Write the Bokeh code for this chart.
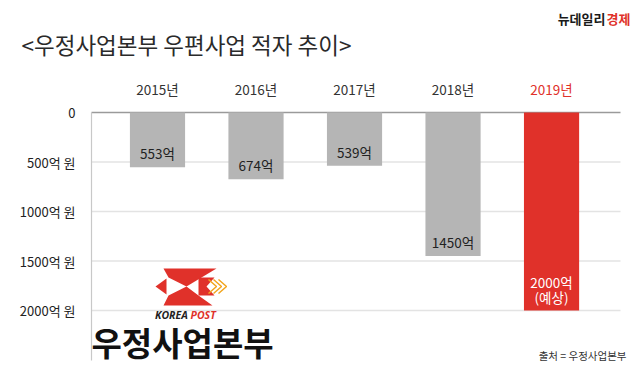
from bokeh.plotting import figure
from bokeh.models import Range1d, FixedTicker, Label, LinearAxis
from bokeh.core.properties import value
from bokeh.embed import file_html
from bokeh.resources import INLINE

# ---- data ----
years = ["2015년", "2016년", "2017년", "2018년", "2019년"]
deficits = [553, 674, 539, 1450, 2000]          # 억 원
bar_labels = ["553억", "674억", "539억", "1450억", "2000억\n(예상)"]
y_ticks = [0, 500, 1000, 1500, 2000]
y_tick_labels = ["0", "500억 원", "1000억 원", "1500억 원", "2000억 원"]

GRAY = "#b5b5b5"
RED = "#e0312a"
KFONT = "Noto Sans CJK KR"

# pixel layout of the plotting area
FL, FR, FT, FB = 91, 620, 112, 360
XL, XR = -0.67, 4.70      # x data at FL / FR
YMAX = 2505               # y data at FB (0 at FT)


def sx(px):
    return XL + (px - FL) * (XR - XL) / (FR - FL)


def sy(py):
    return (py - FT) * YMAX / (FB - FT)


idx = list(range(len(years)))
bar_colors = [GRAY] * 4 + [RED]
label_colors = ["#222222"] * 4 + ["#ffffff"]
year_colors = ["#333333"] * 4 + [RED]
grid_colors = ["#9a9a9a"] + ["#e3e3e3"] * 4

p = figure(width=640, height=384, x_range=Range1d(sx(0), sx(640)),
           y_range=Range1d(sy(384), sy(0)),
           output_backend="svg", toolbar_location=None,
           x_axis_location=None, y_axis_location=None,
           min_border=0, min_border_left=0, min_border_right=0,
           min_border_top=0, min_border_bottom=0)
p.outline_line_color = None
p.background_fill_color = "white"
p.border_fill_color = "white"
p.xgrid.visible = False
p.ygrid.visible = False

# grid lines at the tick values
p.segment(x0=sx(FL), x1=sx(FR), y0=y_ticks, y1=y_ticks, line_color=grid_colors, line_width=1.5)

ax = LinearAxis(fixed_location=sx(FL), bounds=(0, sy(FB)))
ax.ticker = FixedTicker(ticks=y_ticks)
ax.major_label_overrides = {t: l for t, l in zip(y_ticks, y_tick_labels)}
ax.major_tick_line_color = None
ax.minor_tick_line_color = None
ax.axis_line_color = "#c8c8c8"
ax.axis_line_width = 1.2
ax.major_label_text_font = KFONT
ax.major_label_text_font_size = "13px"
ax.major_label_text_color = "#222222"
ax.major_label_standoff = 10
p.add_layout(ax, "left")

# bars
p.vbar(x=idx, top=0, bottom=deficits, width=0.56, fill_color=bar_colors, line_color=None)

# bar value labels
p.text(x=idx, y=deficits, text=bar_labels, text_color=label_colors,
       text_align="center", text_baseline="bottom", y_offset=-4,
       text_line_height=0.75,
       text_font=value(KFONT), text_font_size="13.5px")

# year labels above
p.text(x=idx, y=sy(88), text=years, text_color=year_colors,
       text_align="center", text_baseline="middle",
       text_font=value(KFONT), text_font_size="13.5px")

# title
p.add_layout(Label(x=sx(21), y=sy(43), text="<우정사업본부 우편사업 적자 추이>",
                   text_font=KFONT, text_font_size="22.5px", text_color="#2a2a2a",
                   text_baseline="middle", text_align="left"))

# brand
p.add_layout(Label(x=sx(605), y=sy(18), text="뉴데일리", text_font=KFONT,
                   text_font_style="bold", text_font_size="13px", text_color="#1a1a1a",
                   text_baseline="middle", text_align="right"))
p.add_layout(Label(x=sx(630), y=sy(18), text="경제", text_font=KFONT,
                   text_font_style="bold", text_font_size="13px", text_color=RED,
                   text_baseline="middle", text_align="right"))

# logo (decoration)
logo_red = [
    [(163, 268), (216, 268), (201, 277), (186, 286), (168, 277)],
    [(168, 295), (186, 286), (198, 295), (212, 305), (163, 305)],
    [(155, 286), (166, 278), (166, 294)],
    [(198, 277), (214, 277), (206, 286), (214, 295), (198, 295)],
]
p.patches(xs=[[sx(a) for a, b in poly] for poly in logo_red],
          ys=[[sy(b) for a, b in poly] for poly in logo_red],
          fill_color=RED, line_color=None)
for k in range(3):
    ox = 208 + k * 5
    p.line(x=[sx(ox), sx(ox + 8), sx(ox)], y=[sy(279), sy(286), sy(293)],
           line_color="#f2a51e", line_width=1.5)

p.add_layout(Label(x=sx(190), y=sy(314), text="KOREA ", text_font="Open Sans",
                   text_font_style="bold italic", text_font_size="10.5px", text_color="#222222",
                   text_baseline="middle", text_align="right"))
p.add_layout(Label(x=sx(190), y=sy(314), text="POST", text_font="Open Sans",
                   text_font_style="bold italic", text_font_size="10.5px", text_color=RED,
                   text_baseline="middle", text_align="left"))

p.add_layout(Label(x=sx(91), y=sy(341), text="우정사업본부", text_font=KFONT,
                   text_font_style="bold", text_font_size="33px", text_color="#111111",
                   text_baseline="middle", text_align="left"))

p.add_layout(Label(x=sx(626), y=sy(355), text="출처 = 우정사업본부", text_font=KFONT,
                   text_font_size="10.5px", text_color="#333333",
                   text_baseline="middle", text_align="right"))

open("out.html", "w").write(file_html(p, INLINE))
